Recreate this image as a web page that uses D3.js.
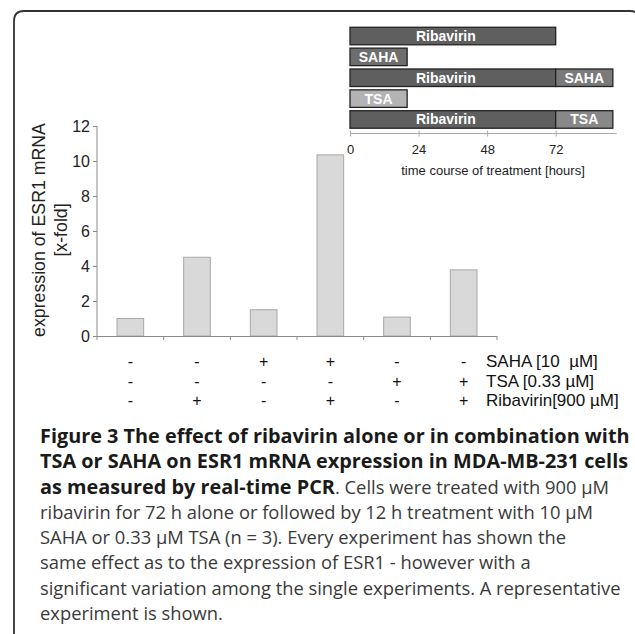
<!DOCTYPE html>
<html><head><meta charset="utf-8">
<script src="https://cdn.jsdelivr.net/npm/d3@7"></script>
<style>html,body{margin:0;padding:0;background:#fff;}svg{display:block;}text{white-space:pre;}</style>
</head><body>
<svg id="c" width="635" height="634"></svg>
<script>
// ---- data ----
const conditions = ["c1","c2","c3","c4","c5","c6"];
const expression = [1.0, 4.5, 1.5, 10.35, 1.08, 3.78];
const yTicks = [0, 2, 4, 6, 8, 10, 12];
const sahaSigns = ["-","-","+","+","-","-"];
const tsaSigns = ["-","-","-","-","+","+"];
const ribaSigns = ["-","+","-","+","-","+"];
const signLabels = ["SAHA [10  µM]", "TSA [0.33 µM]", "Ribavirin[900 µM]"];
const yLabel = ["expression of ESR1 mRNA", "[x-fold]"];
// timeline (hours)
const timelineRows = ["r1","r2","r3","r4","r5"];
const timelineSegments = [
  {row:"r1", name:"Ribavirin", start:0, end:72, kind:"riba"},
  {row:"r2", name:"SAHA", start:0, end:20, kind:"sahaAlone"},
  {row:"r3", name:"Ribavirin", start:0, end:72, kind:"riba"},
  {row:"r3", name:"SAHA", start:72, end:92, kind:"saha"},
  {row:"r4", name:"TSA", start:0, end:20, kind:"tsaAlone"},
  {row:"r5", name:"Ribavirin", start:0, end:72, kind:"riba"},
  {row:"r5", name:"TSA", start:72, end:92, kind:"tsa"}
];
const timeTicks = [0, 24, 48, 72];
const timeTitle = "time course of treatment [hours]";
const captionLines = [
  [["b","Figure 3 The effect of ribavirin alone or in combination with"]],
  [["b","TSA or SAHA on ESR1 mRNA expression in MDA-MB-231 cells"]],
  [["b","as measured by real-time PCR"],["r",". Cells were treated with 900 µM"]],
  [["r","ribavirin for 72 h alone or followed by 12 h treatment with 10 µM"]],
  [["r","SAHA or 0.33 µM TSA (n = 3). Every experiment has shown the"]],
  [["r","same effect as to the expression of ESR1 - however with a"]],
  [["r","significant variation among the single experiments. A representative"]],
  [["r","experiment is shown."]]
];

const svg = d3.select("#c");
const F = "'Liberation Sans', Arial, sans-serif";
function measure(str, family, weight, size) {
  const t = svg.append("text").attr("font-family",family).attr("font-weight",weight).attr("font-size",size).text(str);
  const w = t.node().getComputedTextLength(); t.remove(); return w;
}

// frame
svg.append("path")
  .attr("d", "M14,640 L14,21 Q14,11 24,11 L630,11 Q640,11 640,21")
  .attr("fill","none").attr("stroke","#333").attr("stroke-width",1.8);

// ---- main bar chart ----
const x = d3.scaleBand().domain(conditions).range([97, 497]).paddingInner(0.6).paddingOuter(0.3);
const y = d3.scaleLinear().domain([0, 12]).range([336, 126]);

svg.selectAll("rect.bar").data(expression).join("rect").attr("class","bar")
  .attr("x",(d,i)=>x(conditions[i])).attr("width",x.bandwidth())
  .attr("y",d=>y(d)).attr("height",d=>y(0)-y(d))
  .attr("fill","#d9d9d9").attr("stroke","#a8a8a8").attr("stroke-width",1);

const yAxis = svg.append("g").attr("transform","translate(97,0)")
  .call(d3.axisLeft(y).tickValues(yTicks).tickSize(4).tickPadding(3).tickFormat(d3.format("d")));
yAxis.select(".domain").attr("stroke","#8a8a8a").attr("d","M0,126V336");
yAxis.selectAll(".tick line").attr("stroke","#8a8a8a");
yAxis.selectAll(".tick text").attr("font-family",F).attr("font-size",16).attr("fill","#222");

// x axis line with ticks at band boundaries
const step = x.step();
const boundaries = d3.range(conditions.length + 1).map(i => 97 + i*step);
svg.append("line").attr("x1",97).attr("x2",497).attr("y1",336.5).attr("y2",336.5).attr("stroke","#8a8a8a");
svg.selectAll("line.xt").data(boundaries).join("line").attr("class","xt")
  .attr("x1",d=>d).attr("x2",d=>d).attr("y1",336).attr("y2",340).attr("stroke","#8a8a8a");

// y label
const ylSize = 17 * 214 / measure(yLabel[0], F, 400, 17);
const yl = svg.append("text").attr("transform","translate(45,230) rotate(-90)")
  .attr("text-anchor","middle").attr("font-family",F).attr("font-size",ylSize).attr("fill","#222");
yl.append("tspan").attr("x",0).attr("dy",0).text(yLabel[0]);
yl.append("tspan").attr("x",0).attr("dy",22).text(yLabel[1]);

// sign table
const signRows = [sahaSigns, tsaSigns, ribaSigns];
const rowY = d3.scalePoint().domain([0,1,2]).range([367, 406]);
signRows.forEach((row, r) => {
  svg.selectAll("text.s"+r).data(row).join("text").attr("class","s"+r)
    .attr("x",(d,i)=>x(conditions[i]) + x.bandwidth()/2).attr("y",rowY(r))
    .attr("text-anchor","middle").attr("font-family",F).attr("font-size",16).attr("fill","#111")
    .text(d=>d);
  svg.append("text").attr("x",486).attr("y",rowY(r)).attr("font-family",F)
    .attr("font-size",17).attr("fill","#111").text(signLabels[r]);
});

// ---- timeline inset ----
const tx = d3.scaleLinear().domain([0, 93]).range([350, 615.7]);
const ty = d3.scaleBand().domain(timelineRows).range([25.6, 129.9]).paddingInner(0.16).paddingOuter(0.08);
const fills = {riba:"#5f5f5f", sahaAlone:"#6e6e6e", saha:"#7a7a7a", tsaAlone:"#b3b3b3", tsa:"#888888"};
svg.selectAll("rect.seg").data(timelineSegments).join("rect").attr("class","seg")
  .attr("x",d=>tx(d.start)).attr("width",d=>tx(d.end)-tx(d.start))
  .attr("y",d=>ty(d.row)).attr("height",ty.bandwidth())
  .attr("fill",d=>fills[d.kind]).attr("stroke","#222").attr("stroke-width",1.3);
svg.selectAll("text.seg").data(timelineSegments).join("text").attr("class","seg")
  .attr("x",d=>(tx(d.start)+tx(d.end))/2 - (d.kind==="riba"?7:0))
  .attr("y",d=>ty(d.row)+ty.bandwidth()/2+5)
  .attr("text-anchor","middle").attr("font-family",F).attr("font-weight","bold")
  .attr("font-size",14).attr("fill","#fff").text(d=>d.name);

const tAxis = svg.append("g").attr("transform","translate(0,133.5)")
  .call(d3.axisBottom(tx).tickValues(timeTicks).tickSize(3).tickPadding(8));
tAxis.select(".domain").attr("stroke","#aaa").attr("d","M350,0H616.7");
tAxis.selectAll(".tick line").attr("stroke","#aaa").attr("y1",-3);
tAxis.selectAll(".tick text").attr("font-family",F).attr("font-size",13).attr("fill","#222");
svg.append("text").attr("x",493).attr("y",175).attr("text-anchor","middle")
  .attr("font-family",F).attr("font-size",13).attr("fill","#222").text(timeTitle);

// ---- caption ----
const CF = "'Open Sans', 'Noto Sans', sans-serif";
const cap = svg.append("g");
const boldSize = 17 * 590 / measure(captionLines[0][0][1], CF, 700, 17);
const regSize = 17 * 581 / measure(captionLines[6][0][1], CF, 400, 17);
const baseY = d3.scaleLinear().domain([0, 7]).range([443, 620]);
captionLines.forEach((runs, i) => {
  const t = cap.append("text").attr("x",40).attr("y",baseY(i)).attr("font-family",CF);
  runs.forEach(([w, s]) => {
    t.append("tspan").attr("font-weight", w==="b" ? 700 : 400)
      .attr("font-size", w==="b" ? boldSize : regSize)
      .attr("fill", w==="b" ? "#1a1a1a" : "#3a3a3a").text(s);
  });
});
</script>
</body></html>
